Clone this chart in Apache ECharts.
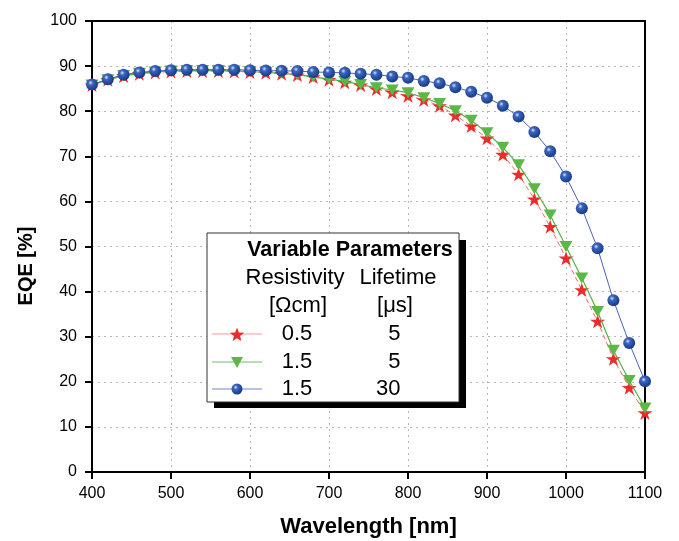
<!DOCTYPE html>
<html><head><meta charset="utf-8">
<script src="https://cdn.jsdelivr.net/npm/echarts@6/dist/echarts.min.js"></script>
<style>html,body{margin:0;padding:0;background:#fff}#c{width:679px;height:541px}</style>
</head><body><div id="c"></div>
<script>
const wavelengths = [400,420,440,460,480,500,520,540,560,580,600,620,640,660,680,700,720,740,760,780,800,820,840,860,880,900,920,940,960,980,1000,1020,1040,1060,1080,1100];
const eqeRed = [85.8,87.0,87.8,88.3,88.6,88.8,88.9,88.9,88.9,88.8,88.7,88.5,88.3,88.0,87.6,87.0,86.4,85.8,84.9,84.2,83.4,82.5,81.2,79.1,76.7,74.0,70.4,66.0,60.5,54.4,47.4,40.4,33.4,25.1,18.7,13.1];
const eqeGreen = [85.8,87.0,87.9,88.4,88.7,88.9,89.0,89.0,89.0,88.9,88.8,88.6,88.4,88.1,87.6,87.1,86.6,85.9,85.2,84.7,84.1,83.0,81.7,80.1,78.0,75.2,72.0,68.1,62.8,57.0,50.0,43.0,35.6,27.0,20.3,14.2];
const eqeBlue = [85.9,87.1,88.1,88.6,88.9,89.1,89.2,89.2,89.2,89.2,89.1,89.0,88.95,88.9,88.7,88.6,88.5,88.3,88.1,87.7,87.4,86.7,86.2,85.3,84.3,83.0,81.2,78.8,75.4,71.1,65.5,58.5,49.6,38.1,28.6,20.1];
const xAxisTitle = 'Wavelength [nm]';
const yAxisTitle = 'EQE [%]';
const legendTitle = 'Variable Parameters';
const legendHeaders = ['Resistivity','Lifetime'];
const legendUnits = ['[\u03A9cm]','[\u03BCs]'];
const resistivity = ['0.5','1.5','1.5'];
const lifetime = ['5','5','30'];

const FONT = 'Liberation Sans, Arial, sans-serif';
const starPath = 'path://M50,0 L61.2,34.5 L97.6,34.5 L68.2,55.9 L79.4,90.5 L50,69.1 L20.6,90.5 L31.8,55.9 L2.4,34.5 L38.8,34.5 Z';
const blueGrad = () => ({type:'radial', x:0.38, y:0.35, r:0.75, colorStops:[{offset:0,color:'#dfe6f7'},{offset:0.25,color:'#3d66bf'},{offset:0.7,color:'#1f4596'},{offset:1,color:'#163678'}]});
const pair = arr => wavelengths.map((w,i)=>[w,arr[i]]);

function starPoints(cx, cy, R, r){
  const pts = [];
  for (let k=0;k<10;k++){
    const ang = -Math.PI/2 + k*Math.PI/5;
    const rad = k%2===0 ? R : r;
    pts.push([cx + rad*Math.cos(ang), cy + rad*Math.sin(ang)]);
  }
  return pts;
}

const chart = echarts.init(document.getElementById('c'));
const rowY = [334, 362, 389];
const legendMarks = [
  {type:'polygon', shape:{points:starPoints(237, rowY[0]+1, 7.5, 3.2)}, style:{fill:'#ee2a2a'}},
  {type:'polygon', shape:{points:[[231,rowY[1]-5],[243,rowY[1]-5],[237,rowY[1]+6]]}, style:{fill:'#5bb846'}},
  {type:'circle', shape:{cx:237, cy:rowY[2], r:5.5}, style:{fill:blueGrad()}}
];
const sampleLine = ['#f49a9a','#6cbf5c','#7383c8'];

const graphic = [
  {type:'text', x:26, y:266, rotation:Math.PI/2, z:50, style:{text:yAxisTitle, font:'bold 20px '+FONT, fill:'#000', textAlign:'center', textVerticalAlign:'middle'}},
  {type:'rect', shape:{x:214, y:240, width:252, height:168}, style:{fill:'#000'}, z:100},
  {type:'rect', shape:{x:207, y:233, width:252, height:169}, style:{fill:'#fff', stroke:'#333', lineWidth:1}, z:101},
  {type:'text', x:350, y:250, z:102, style:{text:legendTitle, font:'bold 21.5px '+FONT, fill:'#000', textAlign:'center', textVerticalAlign:'middle'}},
  {type:'text', x:295, y:278, z:102, style:{text:legendHeaders[0], font:'22px '+FONT, fill:'#000', textAlign:'center', textVerticalAlign:'middle'}},
  {type:'text', x:398, y:278, z:102, style:{text:legendHeaders[1], font:'22px '+FONT, fill:'#000', textAlign:'center', textVerticalAlign:'middle'}},
  {type:'text', x:298, y:306, z:102, style:{text:legendUnits[0], font:'22px '+FONT, fill:'#000', textAlign:'center', textVerticalAlign:'middle'}},
  {type:'text', x:395, y:306, z:102, style:{text:legendUnits[1], font:'22px '+FONT, fill:'#000', textAlign:'center', textVerticalAlign:'middle'}}
];
for (let i=0;i<3;i++){
  graphic.push({type:'line', z:102, shape:{x1:212,y1:rowY[i],x2:262,y2:rowY[i]}, style:{stroke:sampleLine[i], lineWidth:1.2}});
  graphic.push(Object.assign({z:103}, legendMarks[i]));
  graphic.push({type:'text', x:297, y:rowY[i], z:102, style:{text:resistivity[i], font:'22px '+FONT, fill:'#000', textAlign:'center', textVerticalAlign:'middle'}});
  graphic.push({type:'text', x:400.5, y:rowY[i], z:102, style:{text:lifetime[i], font:'22px '+FONT, fill:'#000', textAlign:'right', textVerticalAlign:'middle'}});
}

const frameAxis = {axisLine:{show:true, onZero:false, lineStyle:{color:'#000', width:2}}, axisTick:{show:false}, axisLabel:{show:false}, splitLine:{show:false}};

chart.setOption({
  animation:false,
  backgroundColor:'#fff',
  grid:{left:92, right:34, top:21, bottom:69, containLabel:false, outerBoundsMode:'none'},
  xAxis:[{type:'value', min:400, max:1100, interval:100,
    name:xAxisTitle, nameLocation:'middle', nameGap:44,
    nameTextStyle:{fontFamily:FONT, fontWeight:'bold', fontSize:22, color:'#000'},
    axisLine:{onZero:false, lineStyle:{color:'#000', width:2}},
    axisTick:{show:true, inside:false, length:7, lineStyle:{color:'#000', width:2}},
    axisLabel:{fontFamily:FONT, fontSize:16, color:'#000', margin:14, formatter:v=>String(v)},
    splitLine:{show:true, lineStyle:{color:'#b8b8b8', type:[2,4], width:1}}},
    Object.assign({type:'value', position:'top', min:400, max:1100}, frameAxis)],
  yAxis:[{type:'value', min:0, max:100, interval:10,
    axisLine:{onZero:false, lineStyle:{color:'#000', width:2}},
    axisTick:{show:true, inside:false, length:7, lineStyle:{color:'#000', width:2}},
    axisLabel:{fontFamily:FONT, fontSize:16, color:'#000', margin:15},
    splitLine:{show:true, lineStyle:{color:'#b8b8b8', type:[2,4], width:1}}},
    Object.assign({type:'value', position:'right', min:0, max:100}, frameAxis)],
  series:[
    {type:'line', data:pair(eqeRed), symbol:starPath, symbolSize:[15,14],
      lineStyle:{color:'#f26b6b', width:1, type:[5,3]}, itemStyle:{color:'#ee2a2a'}, z:3},
    {type:'line', data:pair(eqeGreen), symbol:'triangle', symbolRotate:180, symbolSize:[13,11],
      lineStyle:{color:'#55b144', width:1.2}, itemStyle:{color:'#5bb846'}, z:4},
    {type:'line', data:pair(eqeBlue), symbol:'circle', symbolSize:12,
      lineStyle:{color:'#4a62b4', width:1}, itemStyle:{color:blueGrad()}, z:5}
  ],
  graphic:graphic
});
</script></body></html>
